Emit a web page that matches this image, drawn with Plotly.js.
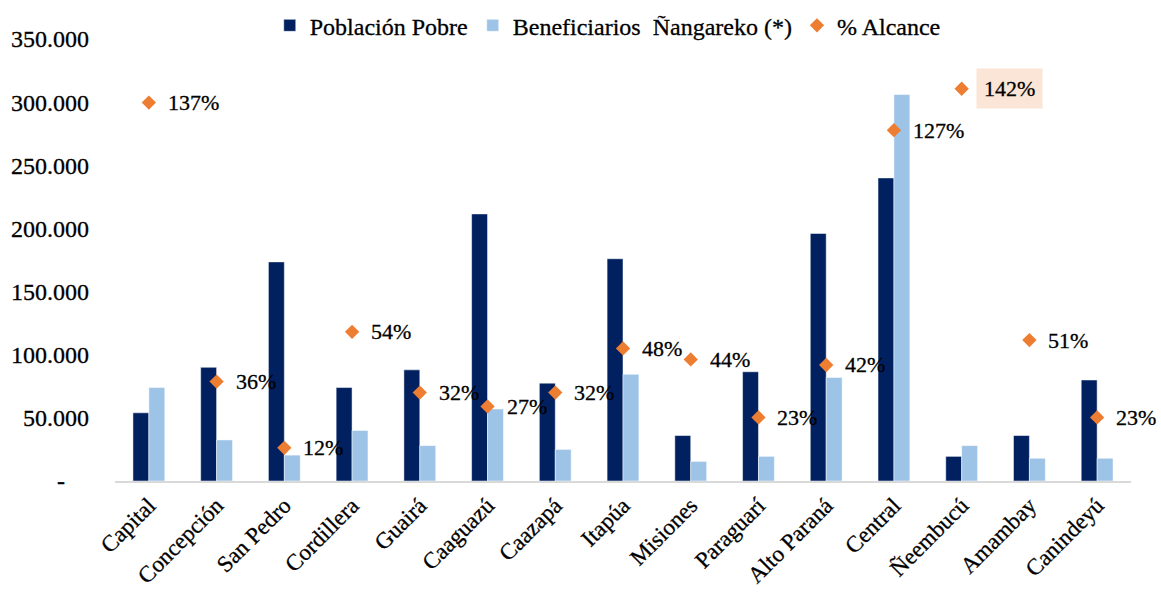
<!DOCTYPE html>
<html>
<head>
<meta charset="utf-8">
<script src="https://cdn.plot.ly/plotly-3.0.1.min.js"></script>
<style>html,body{margin:0;padding:0;background:#fff;}#chart{width:1161px;height:594px;}
#chart .xtick text, #chart .ytick text, #chart .legendtext, #chart .annotation-text{stroke:#000;stroke-width:0.3px;}</style>
</head>
<body>
<div id="chart"></div>
<script>
const departamentos = ["Capital","Concepción","San Pedro","Cordillera","Guairá","Caaguazú","Caazapá","Itapúa","Misiones","Paraguarí","Alto Paraná","Central","Ñeembucú","Amambay","Canindeyú"];
const poblacionPobre = [54000, 90000, 173500, 74000, 88000, 211500, 77500, 176000, 36000, 86500, 196000, 240000, 19500, 36000, 80000];
const beneficiarios = [74000, 32500, 20500, 40000, 28000, 57000, 25000, 84500, 15500, 19500, 82000, 306000, 28000, 18000, 18000];
const alcance = [1.37, 0.36, 0.12, 0.54, 0.32, 0.27, 0.32, 0.48, 0.44, 0.23, 0.42, 1.27, 1.42, 0.51, 0.23];
const alcanceLabels = ["137%","36%","12%","54%","32%","27%","32%","48%","44%","23%","42%","127%","142%","51%","23%"];
const yTickVals = [0, 50000, 100000, 150000, 200000, 250000, 300000, 350000];
const yTickText = ["-\u00a0\u00a0\u00a0\u00a0", "50.000", "100.000", "150.000", "200.000", "250.000", "300.000", "350.000"];
const highlighted = "Ñeembucú";

const serif = "Liberation Serif";

const traces = [
  {type:"bar", name:"Población Pobre", x:departamentos, y:poblacionPobre,
   marker:{color:"#002060", line:{color:"#ffffff", width:0.5}}},
  {type:"bar", name:"Beneficiarios  Ñangareko (*)", x:departamentos, y:beneficiarios,
   marker:{color:"#9DC3E6", line:{color:"#ffffff", width:0.5}}},
  {type:"scatter", mode:"markers", name:"% Alcance", x:departamentos, y:alcance, yaxis:"y2",
   marker:{symbol:"diamond", color:"#ED7D31", size:11}}
];

const annotations = departamentos.map((d,i)=>{
  const hl = d === highlighted;
  return {
    x:d, y:alcance[i], xref:"x", yref:"y2", text:alcanceLabels[i],
    showarrow:false, xanchor:"left", yanchor:"middle",
    xshift: hl ? 14 : 18,
    font:{family:serif, size:22, color:"#000"},
    bgcolor: hl ? "#FBE5D6" : "rgba(0,0,0,0)",
    borderpad: hl ? 7 : 0
  };
});

const layout = {
  width:1161, height:594,
  margin:{l:115, r:30, t:39, b:113, autoexpand:false},
  paper_bgcolor:"#ffffff", plot_bgcolor:"#ffffff",
  font:{family:serif, size:20, color:"#000"},
  barmode:"group", bargap:0.53, bargroupgap:0,
  showlegend:true,
  legend:{orientation:"h", x:0.485, xanchor:"center", y:1.03, yanchor:"middle",
          font:{family:serif, size:24, color:"#000"}, itemwidth:20,
          tracegroupgap:0, traceorder:"normal"},
  xaxis:{type:"category", range:[-0.5, 14.5], autorange:false, showgrid:false, zeroline:false, showline:true, linecolor:"#d9d9d9", linewidth:2,
         ticks:"", tickangle:-45, tickfont:{family:serif, size:23, color:"#000"}},
  yaxis:{range:[0,350000], tickvals:yTickVals, ticktext:yTickText, showgrid:false, zeroline:false,
         showline:false, ticks:"", ticklabelstandoff:25,
         tickfont:{family:serif, size:24, color:"#000"}},
  yaxis2:{range:[0,1.6], overlaying:"y", side:"right", visible:false, showgrid:false, zeroline:false},
  annotations:annotations
};

Plotly.newPlot("chart", traces, layout, {displayModeBar:false, staticPlot:true});
</script>
</body>
</html>
